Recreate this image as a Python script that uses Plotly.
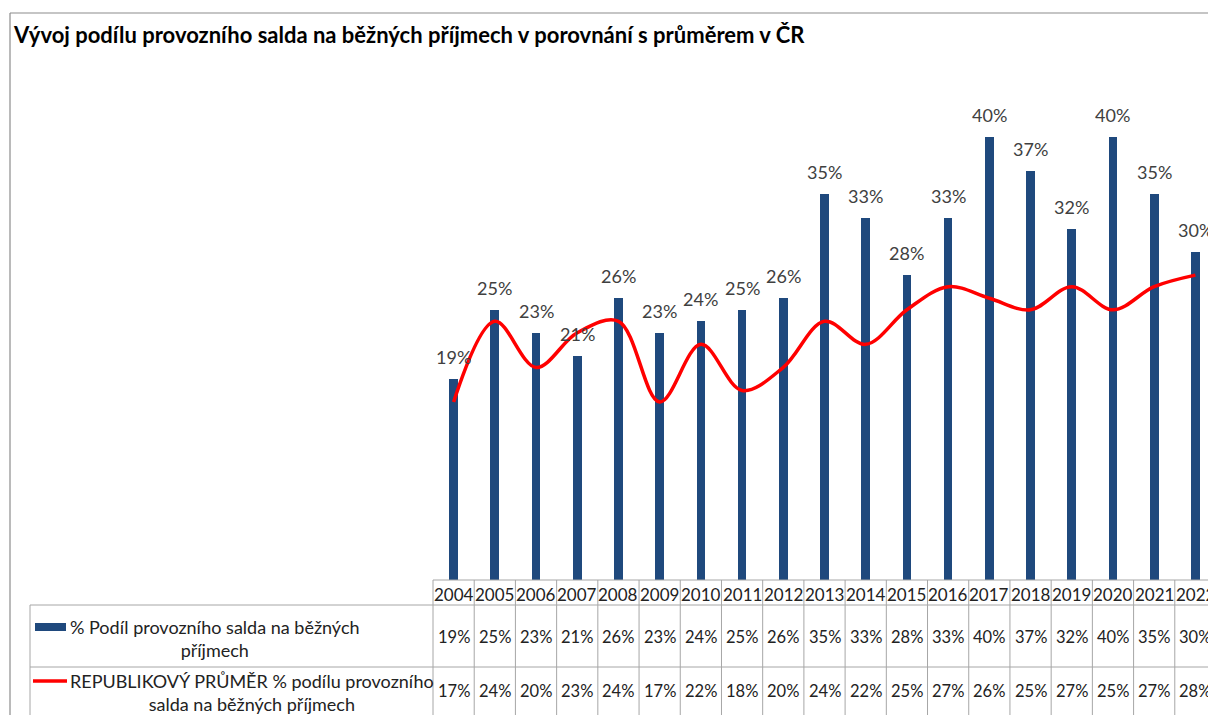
import plotly.graph_objects as go

years = ["2004", "2005", "2006", "2007", "2008", "2009", "2010", "2011", "2012", "2013",
         "2014", "2015", "2016", "2017", "2018", "2019", "2020", "2021", "2022"]
podil = [19, 25, 23, 21, 26, 23, 24, 25, 26, 35, 33, 28, 33, 40, 37, 32, 40, 35, 30]
prumer = [17, 24, 20, 23, 24, 17, 22, 18, 20, 24, 22, 25, 27, 26, 25, 27, 25, 27, 28]

series1_name = "% Podíl provozního salda na běžných<br>příjmech"
series2_name = "REPUBLIKOVÝ PRŮMĚR % podílu provozního<br>salda na běžných příjmech"
title_text = "Vývoj podílu provozního salda na běžných příjmech v porovnání s průměrem v ČR"

OFF = 8  # page body margin
W, H = 1216 - OFF, 715 - OFF
L = 433 - OFF
T = 60 - OFF
B = H - (580 - OFF)
R = 0
PW = W - L - R
PH = H - T - B
FONT = "Lato, Carlito, Calibri, sans-serif"
BLUE = "#1F497D"
RED = "#FF0000"
GRID = "#A6A6A6"
TXT = "#222222"


def px(xpix):
    return (xpix - OFF - L) / PW


def py(ypix):
    return (H - B - (ypix - OFF)) / PH


xs = list(range(len(years)))

fig = go.Figure()
fig.add_trace(go.Bar(
    x=xs, y=podil, width=0.21, marker=dict(color=BLUE, line=dict(width=0)),
    showlegend=False,
))
fig.add_trace(go.Scatter(
    x=xs, y=prumer, mode="lines", line=dict(color=RED, width=3.5, shape="spline", smoothing=1.0),
    showlegend=False, cliponaxis=False,
))

shapes = []
annotations = []

# bar data labels
for i, v in enumerate(podil):
    annotations.append(dict(xref="x", yref="y", x=i, y=v, text=f"{v}%", showarrow=False,
                            xanchor="center", yanchor="bottom", yshift=9,
                            font=dict(family=FONT, size=18, color="#404040")))

# chart frame
shapes.append(dict(type="line", xref="paper", yref="paper", x0=px(10), x1=px(1216), y0=py(13), y1=py(13),
                   line=dict(color="#8C8C8C", width=1.2)))
shapes.append(dict(type="line", xref="paper", yref="paper", x0=px(10), x1=px(10), y0=py(13), y1=py(716),
                   line=dict(color="#8C8C8C", width=1.2)))

# data table grid
y_top, y_hdr, y_r1, y_bot = 580, 605, 667, 716
shapes.append(dict(type="line", xref="paper", yref="paper", x0=0, x1=1, y0=py(y_top), y1=py(y_top),
                   line=dict(color=GRID, width=1)))
for yy in (y_hdr, y_r1):
    shapes.append(dict(type="line", xref="paper", yref="paper", x0=px(30), x1=1, y0=py(yy), y1=py(yy),
                       line=dict(color=GRID, width=1)))
shapes.append(dict(type="line", xref="paper", yref="paper", x0=px(30), x1=px(30), y0=py(y_hdr), y1=py(y_bot),
                   line=dict(color=GRID, width=1)))
for i in range(len(years) + 1):
    xb = i / len(years)
    shapes.append(dict(type="line", xref="paper", yref="paper", x0=xb, x1=xb, y0=py(y_top), y1=py(y_bot),
                       line=dict(color=GRID, width=1)))

# legend keys
shapes.append(dict(type="rect", xref="paper", yref="paper", x0=px(35), x1=px(66), y0=py(623), y1=py(631),
                   fillcolor=BLUE, line=dict(width=0)))
shapes.append(dict(type="line", xref="paper", yref="paper", x0=px(33), x1=px(67), y0=py(681), y1=py(681),
                   line=dict(color=RED, width=3.5)))

annotations.append(dict(xref="paper", yref="paper", x=px(68), y=py(638), xanchor="left", yanchor="middle",
                        text=series1_name, showarrow=False, align="center",
                        font=dict(family=FONT, size=18, color=TXT)))
annotations.append(dict(xref="paper", yref="paper", x=px(68), y=py(692), xanchor="left", yanchor="middle",
                        text=series2_name, showarrow=False, align="center",
                        font=dict(family=FONT, size=18, color=TXT)))

for i, yr in enumerate(years):
    annotations.append(dict(xref="x", yref="paper", x=i, y=py(594), text=yr, showarrow=False,
                            xanchor="center", yanchor="middle", font=dict(family=FONT, size=17, color=TXT)))
    annotations.append(dict(xref="x", yref="paper", x=i, y=py(637), text=f"{podil[i]}%", showarrow=False,
                            xanchor="center", yanchor="middle", font=dict(family=FONT, size=16.5, color=TXT)))
    annotations.append(dict(xref="x", yref="paper", x=i, y=py(691), text=f"{prumer[i]}%", showarrow=False,
                            xanchor="center", yanchor="middle", font=dict(family=FONT, size=16.5, color=TXT)))

# y mapping (screen pixels): 0% at pixel 598, 11.53 px per percent
zero_pix, per = 598, 11.53
y_lo = (zero_pix - 580) / per
y_hi = (zero_pix - 60) / per

fig.update_layout(
    width=W, height=H,
    margin=dict(l=L, r=R, t=T, b=B, pad=0),
    paper_bgcolor="white", plot_bgcolor="white",
    showlegend=False,
    title=dict(text=f"<b>{title_text}</b>", x=(14 - OFF) / W, xanchor="left", xref="container",
               y=1 - (35 - OFF) / H, yanchor="middle", yref="container",
               font=dict(family=FONT, size=22, color="#000000")),
    xaxis=dict(range=[-0.5, len(years) - 0.5], showticklabels=False, showgrid=False, zeroline=False,
               showline=False, ticks="", fixedrange=True),
    yaxis=dict(range=[y_lo, y_hi], showticklabels=False, showgrid=False, zeroline=False,
               showline=False, ticks="", fixedrange=True),
    shapes=shapes, annotations=annotations,
    bargap=0,
)

fig.write_html("out.html")
